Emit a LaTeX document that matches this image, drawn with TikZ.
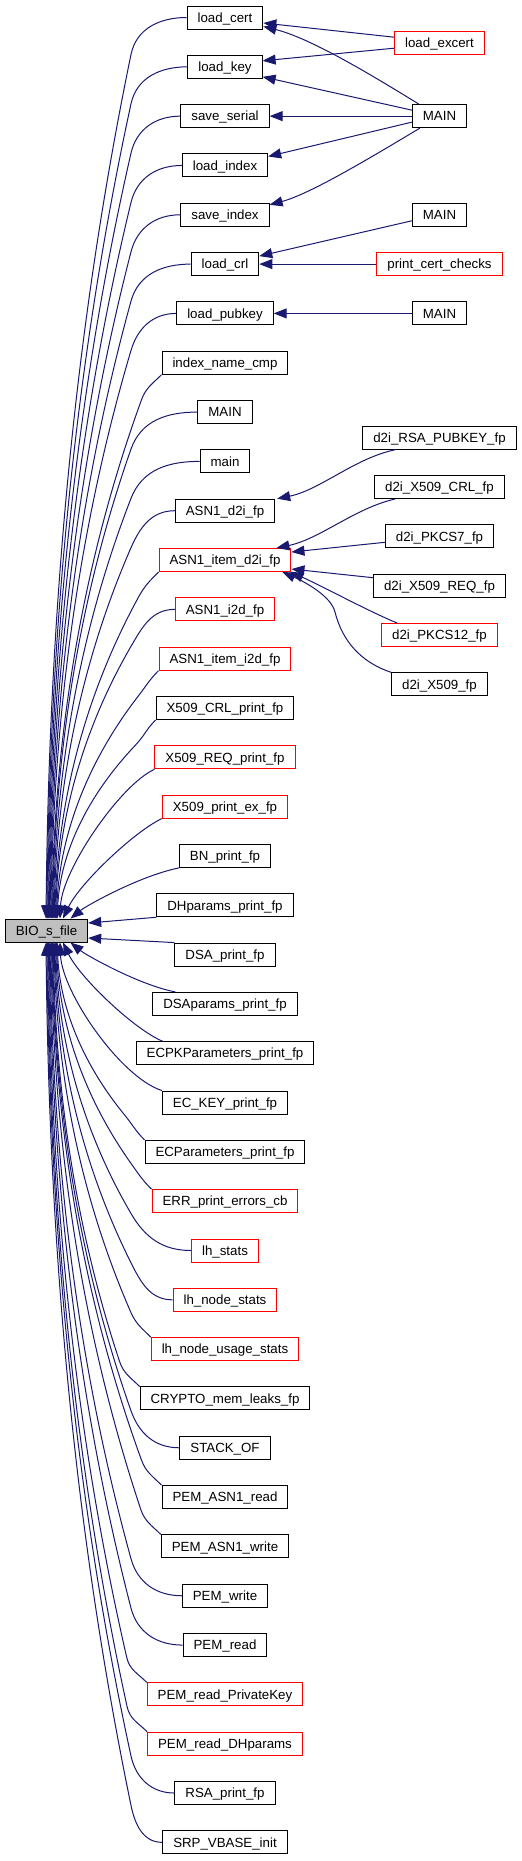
\documentclass[tikz,border=0pt]{standalone}
\usepackage{fontspec}
\setmainfont{Liberation Sans}
\usetikzlibrary{arrows.meta,calc}
\definecolor{edgeblue}{HTML}{191970}
\definecolor{nodered}{HTML}{FF0000}
\definecolor{biogray}{HTML}{BFBFBF}
\newdimen\tmpxd
\newdimen\tmpyd
\begin{document}
\begin{tikzpicture}[x=1pt,y=-1pt,
  fbox/.style={draw=black,line width=1pt,rectangle,minimum height=23pt,inner xsep=10.5pt,inner ysep=0pt,text height=9.5pt,text depth=0pt,font=\fontsize{13.3pt}{16pt}\selectfont},
  rbox/.style={fbox,draw=nodered},
  gbox/.style={fbox,fill=biogray},
  call/.style={draw=edgeblue,line width=1pt,-{Triangle[length=13pt,width=10pt]}}]
\fill[white] (0,0) rectangle (522,1861);
\useasboundingbox (0,0) rectangle (522,1861);
% central node
\node[gbox] (bio) at (46.5,930.5) {BIO\_s\_file};
% middle column
\node[fbox] (n0) at (225,17.5) {load\_cert};
\node[fbox] (n1) at (225,66.82) {load\_key};
\node[fbox] (n2) at (225,116.14) {save\_serial};
\node[fbox] (n3) at (225,165.46) {load\_index};
\node[fbox] (n4) at (225,214.78) {save\_index};
\node[fbox] (n5) at (225,264.1) {load\_crl};
\node[fbox] (n6) at (225,313.42) {load\_pubkey};
\node[fbox] (n7) at (225,362.74) {index\_name\_cmp};
\node[fbox] (n8) at (225,412.06) {MAIN};
\node[fbox] (n9) at (225,461.38) {main};
\node[fbox] (n10) at (225,510.7) {ASN1\_d2i\_fp};
\node[rbox] (n11) at (225,560.02) {ASN1\_item\_d2i\_fp};
\node[rbox] (n12) at (225,609.34) {ASN1\_i2d\_fp};
\node[rbox] (n13) at (225,658.66) {ASN1\_item\_i2d\_fp};
\node[fbox] (n14) at (225,707.98) {X509\_CRL\_print\_fp};
\node[rbox] (n15) at (225,757.3) {X509\_REQ\_print\_fp};
\node[rbox] (n16) at (225,806.62) {X509\_print\_ex\_fp};
\node[fbox] (n17) at (225,855.94) {BN\_print\_fp};
\node[fbox] (n18) at (225,905.26) {DHparams\_print\_fp};
\node[fbox] (n19) at (225,954.58) {DSA\_print\_fp};
\node[fbox] (n20) at (225,1003.9) {DSAparams\_print\_fp};
\node[fbox] (n21) at (225,1053.22) {ECPKParameters\_print\_fp};
\node[fbox] (n22) at (225,1102.54) {EC\_KEY\_print\_fp};
\node[fbox] (n23) at (225,1151.86) {ECParameters\_print\_fp};
\node[rbox] (n24) at (225,1201.18) {ERR\_print\_errors\_cb};
\node[rbox] (n25) at (225,1250.5) {lh\_stats};
\node[rbox] (n26) at (225,1299.82) {lh\_node\_stats};
\node[rbox] (n27) at (225,1349.14) {lh\_node\_usage\_stats};
\node[fbox] (n28) at (225,1398.46) {CRYPTO\_mem\_leaks\_fp};
\node[fbox] (n29) at (225,1447.78) {STACK\_OF};
\node[fbox] (n30) at (225,1497.1) {PEM\_ASN1\_read};
\node[fbox] (n31) at (225,1546.42) {PEM\_ASN1\_write};
\node[fbox] (n32) at (225,1595.74) {PEM\_write};
\node[fbox] (n33) at (225,1645.06) {PEM\_read};
\node[rbox] (n34) at (225,1694.38) {PEM\_read\_PrivateKey};
\node[rbox] (n35) at (225,1743.7) {PEM\_read\_DHparams};
\node[fbox] (n36) at (225,1793.02) {RSA\_print\_fp};
\node[fbox] (n37) at (225,1842.34) {SRP\_VBASE\_init};
% right column
\node[rbox] (e1) at (439.5,43.2) {load\_excert};
\node[fbox] (m1) at (439.5,116.14) {MAIN};
\node[fbox] (m2) at (439.5,214.78) {MAIN};
\node[rbox] (pc) at (439.5,264.1) {print\_cert\_checks};
\node[fbox] (m3) at (439.5,313.42) {MAIN};
\node[fbox] (dr) at (439.5,437.7) {d2i\_RSA\_PUBKEY\_fp};
\node[fbox] (dc) at (439.5,487) {d2i\_X509\_CRL\_fp};
\node[fbox] (dp7) at (439.5,536.3) {d2i\_PKCS7\_fp};
\node[fbox] (drq) at (439.5,585.7) {d2i\_X509\_REQ\_fp};
\node[rbox] (dp12) at (439.5,635) {d2i\_PKCS12\_fp};
\node[fbox] (dx) at (439.5,684.3) {d2i\_X509\_fp};
% edges into BIO_s_file (far ones, computed)
\foreach \r/\m/\anc/\sg/\cn/\side in {0/0/west/1/0/north, 1/1/west/1/0/north, 2/2/west/1/0/north, 3/3/west/1/0/north, 4/4/west/1/0/north, 5/5/west/1/0/north, 6/6/west/1/0/north, 7/7/south west/1/1/north, 8/8/west/1/0/north, 9/9/west/1/0/north, 10/10/west/1/0/north, 11/11/south west/1/1/north, 12/12/west/1/0/north, 13/13/south west/1/1/north, 14/14/south west/1/1/north, 23/14/north west/-1/1/south, 24/13/north west/-1/1/south, 25/12/west/-1/0/south, 26/11/west/-1/0/south, 27/10/north west/-1/1/south, 28/9/north west/-1/1/south, 29/8/west/-1/0/south, 30/7/north west/-1/1/south, 31/6/north west/-1/1/south, 32/5/west/-1/0/south, 33/4/west/-1/0/south, 34/3/north west/-1/1/south, 35/2/north west/-1/1/south, 36/1/west/-1/0/south, 37/0/west/-1/0/south}{
  \pgfextractx{\tmpxd}{\pgfpointanchor{n\r}{\anc}}
  \pgfextracty{\tmpyd}{\pgfpointanchor{n\r}{\anc}}
  \pgfmathsetmacro\Sx{\tmpxd}
  \pgfmathsetmacro\Sy{-\tmpyd}
  \pgfmathsetmacro\Tx{46+0.8*\m}
  \pgfmathsetmacro\Ty{930.5-11.5*(\sg)}
  \pgfmathsetmacro\Qx{(\cn)*(\Sx-20)+(1-\cn)*131}
  \pgfmathsetmacro\Qy{\Sy+(\sg)*((\cn)*25+(1-\cn)*37)}
  \pgfmathsetmacro\Hh{abs(\Ty-\Qy)/3}
  \pgfmathsetmacro\Sl{(\Tx-\Qx)/(3*\Hh)}
  \pgfmathsetmacro\Ax{\Qx+2.1*\Sl*\Hh}
  \pgfmathsetmacro\Ay{\Qy+(\sg)*\Hh}
  \pgfmathsetmacro\Bx{\Tx-0.1*\Sl*\Hh}
  \pgfmathsetmacro\By{\Ty-(\sg)*\Hh}
  \pgfmathsetmacro\Cc{0.4*veclen(\Sx-\Qx,\Sy-\Qy)}
  \pgfmathsetmacro\Px{\Sx+(-1+0.293*(\cn))*\Cc}
  \pgfmathsetmacro\Py{\Sy+(\sg)*(\cn)*0.707*\Cc}
  \pgfmathsetmacro\Ln{veclen(2.1*\Sl,1)}
  \pgfmathsetmacro\Rx{\Qx-2.1*\Sl/\Ln*\Cc}
  \pgfmathsetmacro\Ry{\Qy-(\sg)/\Ln*\Cc}
  \pgfmathsetmacro\Dt{\Tx-46.5}
  \draw[call] (n\r.\anc) .. controls (\Px,\Py) and (\Rx,\Ry) .. (\Qx,\Qy) .. controls (\Ax,\Ay) and (\Bx,\By) .. ($(bio.\side)+(\Dt,0)$);
}
% edges into BIO_s_file (near ones)
\draw[call] (n15.south west) .. controls (120,785) and (62,870) .. ($(bio.north)+(13.5,0)$);
\draw[call] (n16.south west) .. controls (135,831) and (80,883) .. ($(bio.north)+(16.5,0)$);
\draw[call] (n17.south west) .. controls (139,876) and (86,906) .. ($(bio.north)+(24,0)$);
\draw[call] (n18.south west) -- ($(bio.east)+(0,-7.5)$);
\draw[call] (n19.north west) -- ($(bio.east)+(0,7.5)$);
\draw[call] ($(n20.north west)+(23,0)$) .. controls (139,985) and (86,955) .. ($(bio.south)+(24,0)$);
\draw[call] ($(n21.north west)+(27,0)$) .. controls (135,1030) and (80,978) .. ($(bio.south)+(16.5,0)$);
\draw[call] (n22.north west) .. controls (120,1077) and (62,992) .. ($(bio.south)+(13.5,0)$);
% edges from the right column
\draw[call] ($(e1.west)+(0,-6)$) -- ($(n0.east)+(0,5.5)$);
\draw[call] ($(e1.west)+(0,5)$) -- ($(n1.east)+(0,-6)$);
\draw[call] ($(m1.north west)+(7,0)$) .. controls (370,74) and (310,38) .. ($(n0.east)+(0,9)$);
\draw[call] ($(m1.west)+(0,-6)$) -- ($(n1.east)+(0,10)$);
\draw[call] (m1.west) -- (n2.east);
\draw[call] ($(m1.west)+(0,6)$) -- ($(n3.east)+(0,-9)$);
\draw[call] ($(m1.south west)+(8,0)$) .. controls (370,158) and (310,194) .. ($(n4.east)+(0,-10)$);
\draw[call] ($(m2.west)+(0,6)$) -- ($(n5.east)+(0,-8)$);
\draw[call] (pc.west) -- (n5.east);
\draw[call] (m3.west) -- (n6.east);
\draw[call] ($(dr.south west)+(33,0)$) .. controls (355,458) and (320,490) .. ($(n10.north east)+(2,0)$);
\draw[call] ($(dc.south west)+(21,0)$) .. controls (355,508) and (320,539) .. ($(n11.north east)+(-15,0)$);
\draw[call] ($(dp7.west)+(0,6)$) -- ($(n11.east)+(0,-8)$);
\draw[call] ($(drq.west)+(0,-8)$) -- ($(n11.east)+(0,9)$);
\draw[call] ($(dp12.north west)+(16,0)$) .. controls (370,612) and (320,585) .. ($(n11.south east)+(-1,0)$);
\draw[call] (dx.north west) .. controls (360,662) and (342,640) .. (335,612) .. controls (331,596) and (305,582) .. ($(n11.south east)+(-9,0)$);
\end{tikzpicture}
\end{document}
